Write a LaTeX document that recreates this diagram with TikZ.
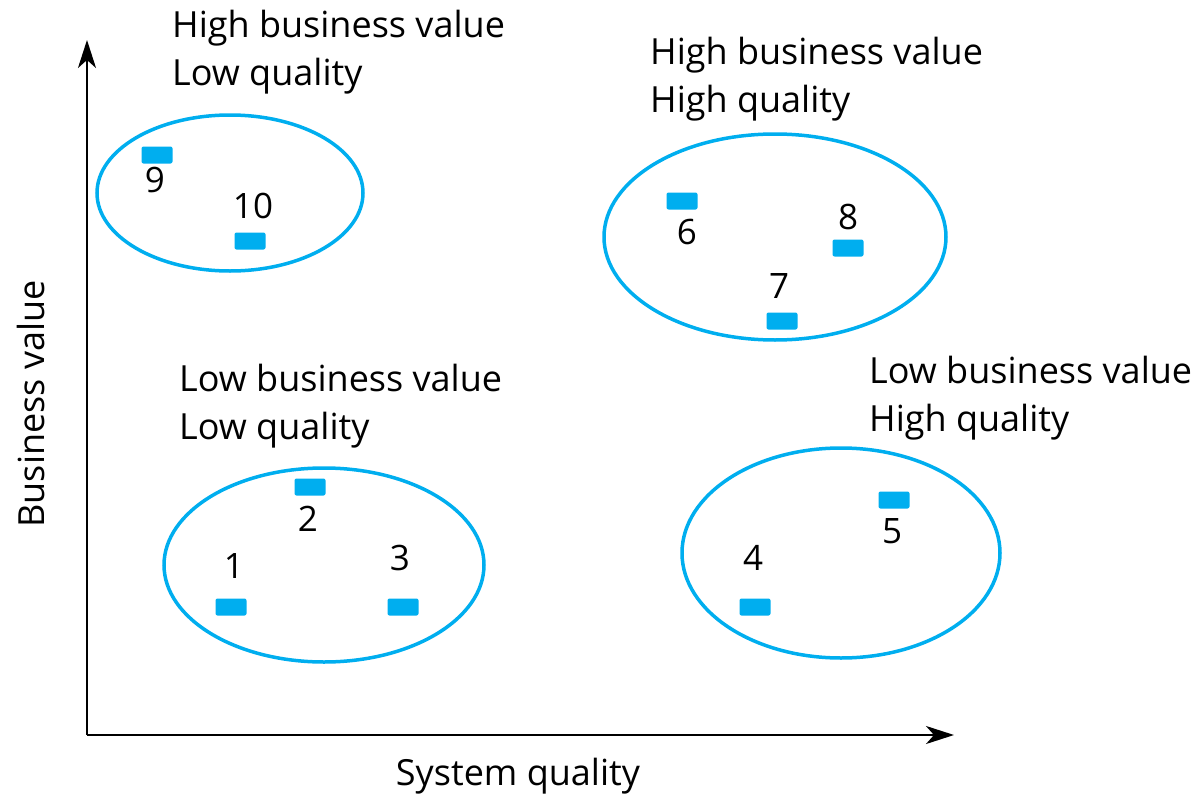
\documentclass[tikz,border=0pt]{standalone}
\usepackage{fontspec}
\setmainfont{Open Sans}
\usetikzlibrary{arrows.meta}
\definecolor{cblue}{HTML}{00AEEF}
\begin{document}
\begin{tikzpicture}[x=1pt,y=-1pt,
  axis/.style={line width=2.2pt,-{Stealth[length=28pt,width=18pt,inset=8pt]}},
  group/.style={draw=cblue,line width=3.5pt},
  sys/.style={fill=cblue,rounded corners=2pt,inner sep=0pt,minimum width=31pt,minimum height=17pt},
  num/.style={font=\fontsize{35}{40}\selectfont,inner sep=0pt},
  lab/.style={font=\fontsize{36}{40}\selectfont,inner sep=0pt,anchor=base west}]
\useasboundingbox (0,0) rectangle (1195,795);
% axes
\coordinate (o) at (87,735);
\coordinate (ytop) at (87,40);
\coordinate (xend) at (954,735);
\draw[axis] (o) -- (ytop);
\draw[axis] (o) -- (xend);
\node[font=\fontsize{36}{40}\selectfont,rotate=90] (ylab) at (31,404) {Business value};
\node[font=\fontsize{36}{40}\selectfont] (xlab) at (518,776) {System quality};
% ellipses
\draw[group] (230,193) ellipse [x radius=133, y radius=78];
\draw[group] (775,237) ellipse [x radius=171, y radius=103];
\draw[group] (324,565) ellipse [x radius=160, y radius=97];
\draw[group] (841,553) ellipse [x radius=159, y radius=105];
% group labels
\node[lab] (t1a) at (172,37) {High business value};
\node[lab] (t1b) at (172,85) {Low quality};
\node[lab] (t2a) at (650,64) {High business value};
\node[lab] (t2b) at (650,112) {High quality};
\node[lab] (t3a) at (179,391) {Low business value};
\node[lab] (t3b) at (179,439) {Low quality};
\node[lab] (t4a) at (869,383) {Low business value};
\node[lab] (t4b) at (869,431) {High quality};
% systems
\node[sys] (s9) at (157,155) {};
\node[sys] (s10) at (250,241) {};
\node[sys] (s6) at (682,201) {};
\node[sys] (s8) at (848,248) {};
\node[sys] (s7) at (782,321) {};
\node[sys] (s2) at (310,487) {};
\node[sys] (s1) at (231,607) {};
\node[sys] (s3) at (403,607) {};
\node[sys] (s4) at (755,607) {};
\node[sys] (s5) at (894,500) {};
% numbers
\node[num] (n9) at (155,180) {9};
\node[num] (n10) at (253,206) {10};
\node[num] (n6) at (687,232) {6};
\node[num] (n8) at (848,217) {8};
\node[num] (n7) at (779,286) {7};
\node[num] (n2) at (308,519) {2};
\node[num] (n1) at (234,566) {1};
\node[num] (n3) at (400,558) {3};
\node[num] (n4) at (753,558) {4};
\node[num] (n5) at (892,531) {5};
\end{tikzpicture}
\end{document}
